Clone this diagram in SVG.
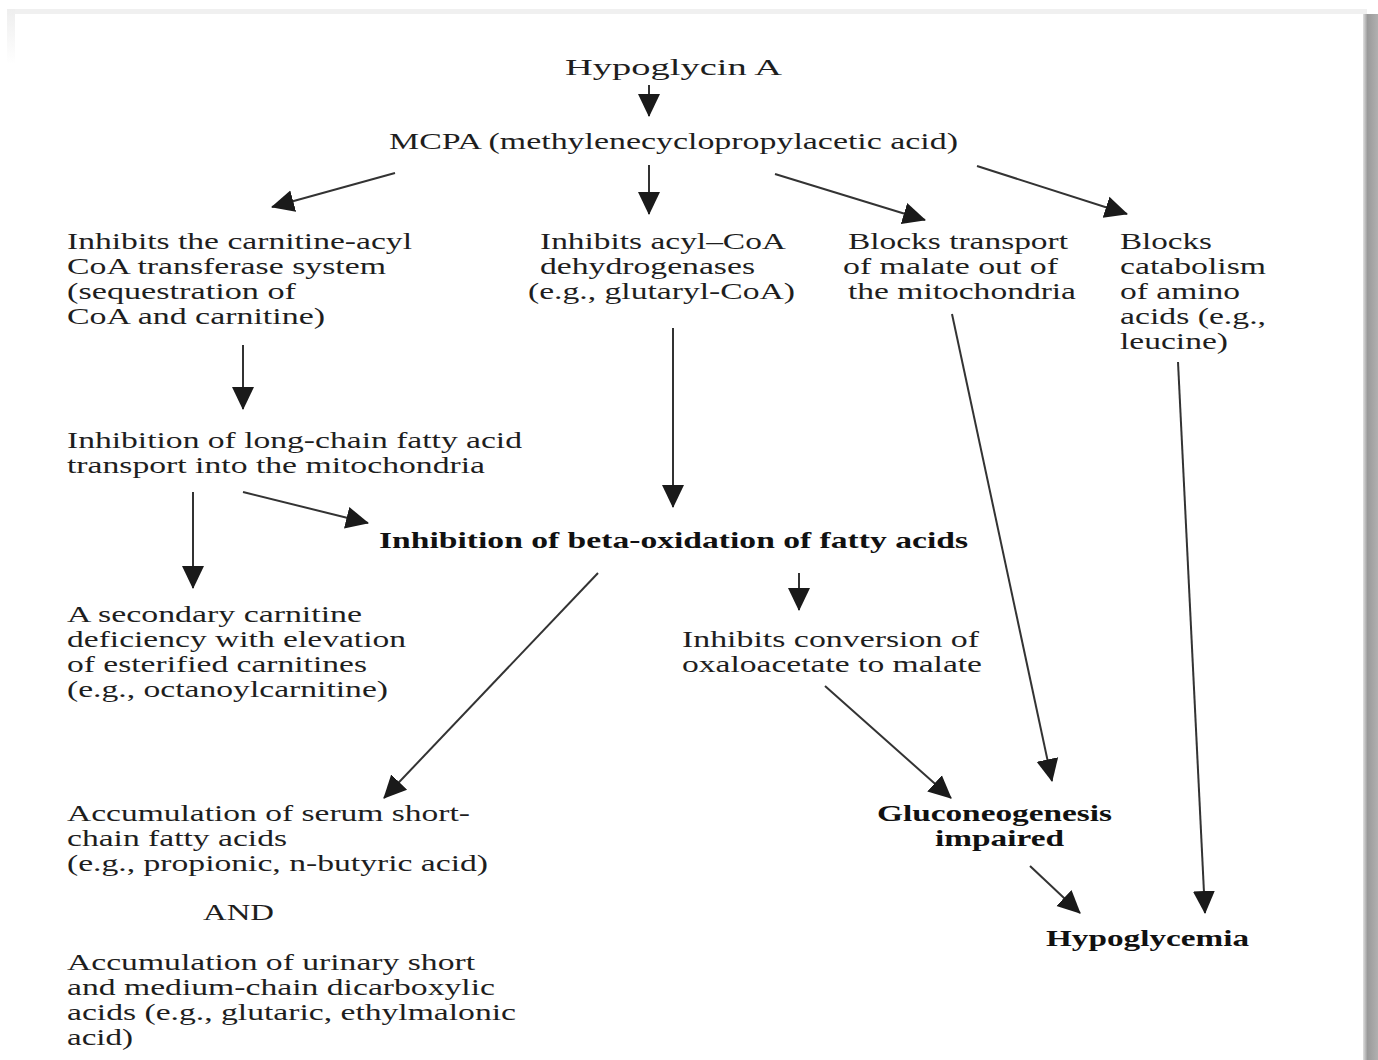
<svg xmlns="http://www.w3.org/2000/svg" width="1378" height="1060" viewBox="0 0 1378 1060">
<defs>
<style>
text{font-family:"Liberation Serif","Times New Roman",serif;font-size:23px;fill:#1e1e1e;}
.b{font-weight:bold;fill:#111;}
.c line{stroke:#333;stroke-width:2;}
</style>
<marker id="ah" markerUnits="userSpaceOnUse" markerWidth="24" markerHeight="24" refX="22" refY="12" orient="auto" viewBox="0 0 24 24">
<path d="M0,1 L23,12 L0,23 z" fill="#1a1a1a"/>
</marker>
<linearGradient id="sh" x1="0" y1="0" x2="1" y2="0">
<stop offset="0" stop-color="#e0e0e0"/>
<stop offset="0.3" stop-color="#9a9a9a"/>
<stop offset="1" stop-color="#b0b0b0"/>
</linearGradient>
<linearGradient id="lf" x1="0" y1="0" x2="0" y2="1">
<stop offset="0" stop-color="#eeeeee"/>
<stop offset="1" stop-color="#ffffff"/>
</linearGradient>
</defs>
<rect width="1378" height="1060" fill="#fff"/>
<g id="frame">
<rect x="7" y="9" width="1360" height="5" fill="#f0f0f0"/>
<rect x="7" y="9" width="8" height="55" fill="url(#lf)"/>
<rect x="1363" y="14" width="15" height="1046" fill="url(#sh)"/>
</g>
<g class="c" id="connectors">
<line x1="649" y1="85" x2="649" y2="116" marker-end="url(#ah)"/>
<line x1="395" y1="173" x2="272" y2="207" marker-end="url(#ah)"/>
<line x1="649" y1="165" x2="649" y2="214" marker-end="url(#ah)"/>
<line x1="775" y1="174" x2="925" y2="220" marker-end="url(#ah)"/>
<line x1="977" y1="166" x2="1127" y2="214" marker-end="url(#ah)"/>
<line x1="243" y1="345" x2="243" y2="409" marker-end="url(#ah)"/>
<line x1="673" y1="328" x2="673" y2="507" marker-end="url(#ah)"/>
<line x1="193" y1="492" x2="193" y2="588" marker-end="url(#ah)"/>
<line x1="243" y1="492" x2="368" y2="523" marker-end="url(#ah)"/>
<line x1="799" y1="573" x2="799" y2="610" marker-end="url(#ah)"/>
<line x1="598" y1="573" x2="384" y2="798" marker-end="url(#ah)"/>
<line x1="952" y1="314" x2="1052" y2="781" marker-end="url(#ah)"/>
<line x1="825" y1="686" x2="951" y2="798" marker-end="url(#ah)"/>
<line x1="1178" y1="362" x2="1205" y2="913" marker-end="url(#ah)"/>
<line x1="1030" y1="866" x2="1080" y2="913" marker-end="url(#ah)"/>
</g>
<g id="n-hypoglycin"><text x="565" y="75" textLength="217" lengthAdjust="spacingAndGlyphs">Hypoglycin A</text></g>
<g id="n-mcpa"><text x="389" y="149" textLength="569" lengthAdjust="spacingAndGlyphs">MCPA (methylenecyclopropylacetic acid)</text></g>
<g id="n-carnitine">
<text x="67" y="249" textLength="345" lengthAdjust="spacingAndGlyphs">Inhibits the carnitine-acyl</text>
<text x="67" y="274" textLength="319" lengthAdjust="spacingAndGlyphs">CoA transferase system</text>
<text x="67" y="299" textLength="229" lengthAdjust="spacingAndGlyphs">(sequestration of</text>
<text x="67" y="324" textLength="258" lengthAdjust="spacingAndGlyphs">CoA and carnitine)</text>
</g>
<g id="n-acylcoa">
<text x="540" y="249" textLength="246" lengthAdjust="spacingAndGlyphs">Inhibits acyl–CoA</text>
<text x="540" y="274" textLength="215" lengthAdjust="spacingAndGlyphs">dehydrogenases</text>
<text x="528" y="299" textLength="267" lengthAdjust="spacingAndGlyphs">(e.g., glutaryl-CoA)</text>
</g>
<g id="n-malate">
<text x="848" y="249" textLength="220" lengthAdjust="spacingAndGlyphs">Blocks transport</text>
<text x="843" y="274" textLength="215" lengthAdjust="spacingAndGlyphs">of malate out of</text>
<text x="848" y="299" textLength="228" lengthAdjust="spacingAndGlyphs">the mitochondria</text>
</g>
<g id="n-amino">
<text x="1120" y="249" textLength="92" lengthAdjust="spacingAndGlyphs">Blocks</text>
<text x="1120" y="274" textLength="146" lengthAdjust="spacingAndGlyphs">catabolism</text>
<text x="1120" y="299" textLength="120" lengthAdjust="spacingAndGlyphs">of amino</text>
<text x="1120" y="324" textLength="146" lengthAdjust="spacingAndGlyphs">acids (e.g.,</text>
<text x="1120" y="349" textLength="108" lengthAdjust="spacingAndGlyphs">leucine)</text>
</g>
<g id="n-longchain">
<text x="67" y="448" textLength="455" lengthAdjust="spacingAndGlyphs">Inhibition of long-chain fatty acid</text>
<text x="67" y="473" textLength="418" lengthAdjust="spacingAndGlyphs">transport into the mitochondria</text>
</g>
<g id="n-beta"><text class="b" x="379" y="548" textLength="589" lengthAdjust="spacingAndGlyphs">Inhibition of beta-oxidation of fatty acids</text></g>
<g id="n-secondary">
<text x="67" y="622" textLength="295" lengthAdjust="spacingAndGlyphs">A secondary carnitine</text>
<text x="67" y="647" textLength="339" lengthAdjust="spacingAndGlyphs">deficiency with elevation</text>
<text x="67" y="672" textLength="300" lengthAdjust="spacingAndGlyphs">of esterified carnitines</text>
<text x="67" y="697" textLength="321" lengthAdjust="spacingAndGlyphs">(e.g., octanoylcarnitine)</text>
</g>
<g id="n-oxaloacetate">
<text x="682" y="647" textLength="297" lengthAdjust="spacingAndGlyphs">Inhibits conversion of</text>
<text x="682" y="672" textLength="300" lengthAdjust="spacingAndGlyphs">oxaloacetate to malate</text>
</g>
<g id="n-accumulation">
<text x="67" y="821" textLength="403" lengthAdjust="spacingAndGlyphs">Accumulation of serum short-</text>
<text x="67" y="846" textLength="220" lengthAdjust="spacingAndGlyphs">chain fatty acids</text>
<text x="67" y="871" textLength="421" lengthAdjust="spacingAndGlyphs">(e.g., propionic, n-butyric acid)</text>
<text x="203" y="920" textLength="71" lengthAdjust="spacingAndGlyphs">AND</text>
<text x="67" y="970" textLength="408" lengthAdjust="spacingAndGlyphs">Accumulation of urinary short</text>
<text x="67" y="995" textLength="428" lengthAdjust="spacingAndGlyphs">and medium-chain dicarboxylic</text>
<text x="67" y="1020" textLength="449" lengthAdjust="spacingAndGlyphs">acids (e.g., glutaric, ethylmalonic</text>
<text x="67" y="1045" textLength="66" lengthAdjust="spacingAndGlyphs">acid)</text>
</g>
<g id="n-gluconeogenesis">
<text class="b" x="877" y="821" textLength="235" lengthAdjust="spacingAndGlyphs">Gluconeogenesis</text>
<text class="b" x="935" y="846" textLength="129" lengthAdjust="spacingAndGlyphs">impaired</text>
</g>
<g id="n-hypoglycemia"><text class="b" x="1046" y="946" textLength="203" lengthAdjust="spacingAndGlyphs">Hypoglycemia</text></g>
</svg>
